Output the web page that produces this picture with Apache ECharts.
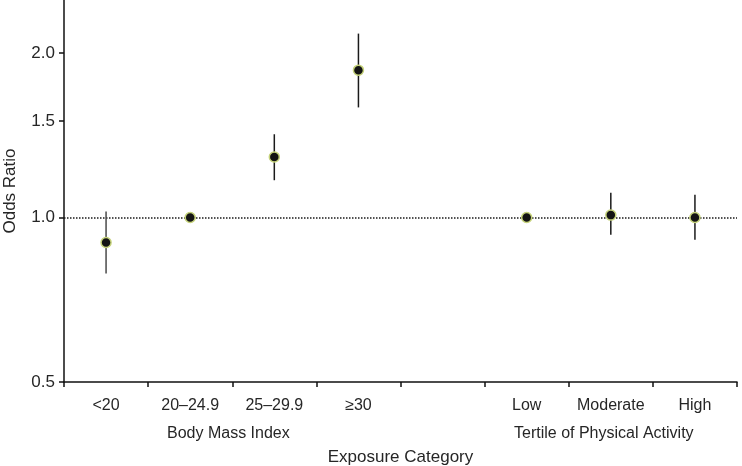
<!DOCTYPE html>
<html>
<head>
<meta charset="utf-8">
<script src="https://cdn.jsdelivr.net/npm/echarts@6/dist/echarts.min.js"></script>
<style>
html,body{margin:0;padding:0;background:#fff;}
#chart{width:742px;height:466px;}
</style>
</head>
<body>
<div id="chart"></div>
<script>
var categories = ['<20', '20\u201324.9', '25\u201329.9', '\u226530', '', 'Low', 'Moderate', 'High'];
var oddsRatio = [0.90, 1.00, 1.29, 1.86, null, 1.00, 1.01, 1.00];
var ciLower   = [0.79, null, 1.17, 1.59, null, null, 0.93, 0.91];
var ciUpper   = [1.025, null, 1.42, 2.17, null, null, 1.11, 1.10];
var yTicks = [0.5, 1.0, 1.5, 2.0];
var refValue = 1.0;
var groupLabels = ['Body Mass Index', 'Tertile of Physical Activity'];

var textColor = '#262626';
var font = 'Liberation Sans, Arial, Helvetica, sans-serif';

var chart = echarts.init(document.getElementById('chart'));

var errData = [];
for (var i = 0; i < categories.length; i++) {
  if (ciLower[i] != null && ciUpper[i] != null) errData.push([i, ciLower[i], ciUpper[i]]);
}
var pointData = oddsRatio.map(function (v, i) { return v == null ? [i, '-'] : [i, v]; });

var option = {
  animation: false,
  backgroundColor: '#fff',
  grid: { left: 64, right: 5, top: 0, bottom: 84, containLabel: false, outerBoundsMode: 'none' },
  xAxis: {
    type: 'category',
    data: categories,
    boundaryGap: true,
    name: 'Exposure Category',
    nameLocation: 'middle',
    nameGap: 67,
    nameTextStyle: { color: textColor, fontSize: 17, fontFamily: font },
    axisLine: { show: true, lineStyle: { color: '#111', width: 1.5 } },
    axisTick: { show: true, length: 5, inside: false, alignWithLabel: false, lineStyle: { color: '#111', width: 1.5 } },
    axisLabel: { color: textColor, fontSize: 16, fontFamily: font, margin: 16, interval: 0 },
    splitLine: { show: false }
  },
  yAxis: {
    type: 'log',
    logBase: 10,
    min: 0.5,
    max: 2.5,
    name: 'Odds Ratio',
    nameLocation: 'middle',
    nameGap: 45,
    nameRotate: 90,
    nameTextStyle: { color: textColor, fontSize: 17, fontFamily: font },
    axisLine: { show: true, lineStyle: { color: '#111', width: 1.5 } },
    axisTick: { show: true, length: 5, customValues: yTicks, lineStyle: { color: '#111', width: 1.5 } },
    axisLabel: {
      color: textColor, fontSize: 17, fontFamily: font, margin: 9,
      customValues: yTicks,
      formatter: function (v) { return Number(v).toFixed(1); }
    },
    splitLine: { show: false },
    minorTick: { show: false }
  },
  graphic: [
    { type: 'text', left: 232 - 65, top: 426, style: { text: groupLabels[0], fill: textColor, fontSize: 16, fontFamily: font } },
    { type: 'text', left: 610 - 96, top: 426, style: { text: groupLabels[1], fill: textColor, fontSize: 16, fontFamily: font } }
  ],
  series: [
    {
      type: 'custom',
      renderItem: function (params, api) {
        var x = api.value(0);
        var p1 = api.coord([x, api.value(1)]);
        var p2 = api.coord([x, api.value(2)]);
        return {
          type: 'line',
          shape: { x1: p1[0], y1: p1[1], x2: p2[0], y2: p2[1] },
          style: { stroke: x === 0 ? '#4a4a4a' : '#1a1a1a', lineWidth: 1.5 }
        };
      },
      encode: { x: 0, y: [1, 2] },
      data: errData,
      z: 2
    },
    {
      type: 'scatter',
      data: pointData,
      symbol: 'circle',
      symbolSize: 10,
      itemStyle: { color: '#141414', borderColor: '#c5d27a', borderWidth: 1.5, opacity: 1 },
      z: 5,
      markLine: {
        silent: true,
        symbol: ['none', 'none'],
        label: { show: false },
        lineStyle: { type: 'dotted', color: '#1a1a1a', width: 1.5 },
        data: [{ yAxis: refValue }],
        z: 1
      }
    }
  ]
};
chart.setOption(option);
</script>
</body>
</html>
